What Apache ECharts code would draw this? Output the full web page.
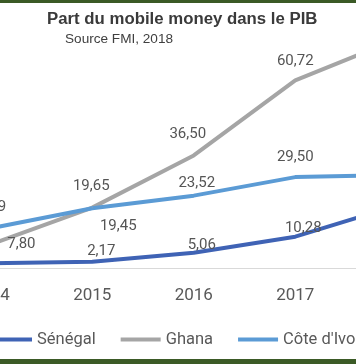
<!DOCTYPE html>
<html>
<head>
<meta charset="utf-8">
<script src="https://cdn.jsdelivr.net/npm/echarts@6/dist/echarts.min.js"></script>
<style>
html,body{margin:0;padding:0;background:#fff;overflow:hidden;width:356px;height:364px;}
#wrap{position:relative;width:356px;height:364px;overflow:hidden;}
#c{position:absolute;left:-60px;top:0;width:520px;height:364px;}
</style>
</head>
<body>
<div id="wrap"><div id="c"></div></div>
<script>
const years = ['2014', '2015', '2016', '2017', '2018'];
const senegal = [1.7, 2.17, 5.06, 10.28, 20.3];
const ghana = [7.80, 19.65, 36.50, 60.72, 74.0];
const coteIvoire = [12.99, 19.45, 23.52, 29.50, 30.2];
const seriesNames = ['Sénégal', 'Ghana', "Côte d'Ivoire"];
const titleText = 'Part du mobile money dans le PIB';
const subtitleText = 'Source FMI, 2018';

const fmt = p => p.value.toFixed(2).replace('.', ',');
const labelBase = {show: true, formatter: fmt, color: '#555', fontFamily: 'Roboto', fontSize: 15};

function withLabels(values, cfgs) {
  return values.map((v, i) => {
    const c = cfgs[i];
    if (c === null) return {value: v, label: {show: false}};
    return {value: v, label: c};
  });
}

// canvas is shifted 60px left of the page
const chart = echarts.init(document.getElementById('c'), null, {renderer: 'canvas'});
chart.setOption({
  animation: false,
  backgroundColor: '#fff',
  title: [
    {text: titleText, left: 102, top: 6, padding: 5,
     textStyle: {fontFamily: 'Liberation Sans', fontWeight: 'bold', fontSize: 16.8, color: '#3a3a3a'}},
    {text: subtitleText, left: 120, top: 27, padding: 5,
     textStyle: {fontFamily: 'Liberation Sans', fontWeight: 'normal', fontSize: 13.6, color: '#404040'}}
  ],
  graphic: [
    {type: 'rect', left: 0, top: 0, shape: {width: 520, height: 3}, style: {fill: '#3b5a26'}},
    {type: 'rect', left: 0, top: 359, shape: {width: 520, height: 5}, style: {fill: '#3b5a26'}}
  ],
  grid: {left: 0, width: 507.5, top: 20.7, bottom: 95.5, containLabel: false},
  xAxis: {
    type: 'category', data: years, boundaryGap: true,
    axisLine: {show: true, lineStyle: {color: '#d9d9d9', width: 1}},
    axisTick: {show: false},
    axisLabel: {color: '#595959', fontFamily: 'Roboto', fontSize: 17, margin: 19}
  },
  yAxis: {
    type: 'value', min: 0, max: 80, show: false,
    splitLine: {show: false}
  },
  legend: {
    left: 47, top: 326, padding: 5, itemWidth: 40, itemHeight: 4, itemGap: 25, icon: 'rect',
    textStyle: {color: '#595959', fontFamily: 'Roboto', fontSize: 16.5},
    data: seriesNames
  },
  series: [
    {
      name: seriesNames[0], type: 'line', symbol: 'circle', symbolSize: 1, clip: false,
      lineStyle: {width: 4, color: '#3f63b5'}, itemStyle: {color: '#3f63b5'},
      label: labelBase,
      data: withLabels(senegal, [
        null,
        {position: 'top', distance: 3, offset: [9, 0]},
        {position: 'top', distance: 0, offset: [8, 0]},
        {position: 'top', distance: 0, offset: [8, 0]},
        {position: 'top', distance: 4}
      ])
    },
    {
      name: seriesNames[1], type: 'line', symbol: 'circle', symbolSize: 1, clip: false,
      lineStyle: {width: 4, color: '#a5a5a5'}, itemStyle: {color: '#a5a5a5'},
      label: labelBase,
      data: withLabels(ghana, [
        {position: 'right', distance: 16},
        {position: 'top', distance: 13, offset: [-1, 0]},
        {position: 'top', distance: 13, offset: [-6, 0]},
        {position: 'top', distance: 11},
        {position: 'top', distance: 11}
      ])
    },
    {
      name: seriesNames[2], type: 'line', symbol: 'circle', symbolSize: 1, clip: false,
      lineStyle: {width: 4, color: '#5b9bd5'}, itemStyle: {color: '#5b9bd5'},
      label: labelBase,
      data: withLabels(coteIvoire, [
        {position: 'top', distance: 13, offset: [-3, 0]},
        {position: 'bottom', distance: 10, offset: [26, 0]},
        {position: 'top', distance: 4, offset: [3, 0]},
        {position: 'top', distance: 12},
        {position: 'top', distance: 12}
      ])
    }
  ]
});
</script>
</body>
</html>
